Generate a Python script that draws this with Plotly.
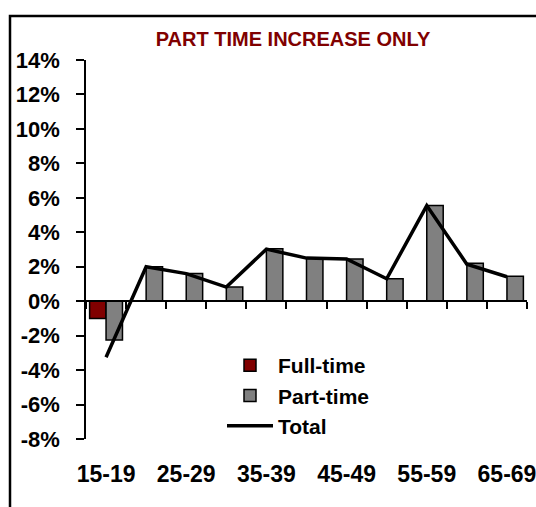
import plotly.graph_objects as go

categories = ["15-19", "20-24", "25-29", "30-34", "35-39", "40-44",
              "45-49", "50-54", "55-59", "60-64", "65-69"]
full_time = [-1.0, 0, 0, 0, 0, 0, 0, 0, 0, 0, 0]
part_time = [-2.25, 2.0, 1.6, 0.82, 3.05, 2.5, 2.45, 1.3, 5.55, 2.2, 1.45]
total = [-3.25, 2.0, 1.6, 0.82, 3.02, 2.5, 2.45, 1.3, 5.55, 2.15, 1.42]
y_ticks = list(range(-8, 15, 2))
y_tick_text = [f"{v}%" for v in y_ticks]
x_label_cats = categories[::2]

Y_MIN, Y_MAX = -8, 14
W, H = 536, 507
ML, MR, MT, MB = 86, 9, 60, 68
FONT = "Arial, Liberation Sans, sans-serif"

fig = go.Figure()
fig.add_trace(go.Bar(
    x=categories, y=full_time, name="Full-time",
    marker=dict(color="#800000", line=dict(color="black", width=1.5)),
    xaxis="x", yaxis="y"))
fig.add_trace(go.Bar(
    x=categories, y=part_time, name="Part-time",
    marker=dict(color="#808080", line=dict(color="black", width=1.5)),
    xaxis="x", yaxis="y"))
fig.add_trace(go.Scatter(
    x=categories, y=total, name="Total", mode="lines",
    line=dict(color="black", width=3.5),
    xaxis="x2", yaxis="y"))

pw = W - ML - MR
ph = H - MT - MB
# outer chart border (extends past the picture on the right and bottom)
fig.add_shape(type="rect", xref="paper", yref="paper",
              x0=(10 - ML) / pw, x1=(W + 30 - ML) / pw,
              y0=-(MB + 30) / ph, y1=(H - MB - 16) / ph,
              line=dict(color="black", width=2.5), fillcolor="rgba(0,0,0,0)")

fig.update_layout(
    width=W, height=H,
    margin=dict(l=ML, r=MR, t=MT, b=MB, autoexpand=False),
    paper_bgcolor="white", plot_bgcolor="white",
    barmode="group", bargap=0.18, bargroupgap=0,
    font=dict(family=FONT, color="black", size=22, weight="bold"),
    title=dict(text="PART TIME INCREASE ONLY", x=293 / W, xanchor="center",
               y=1 - 39 / H, yanchor="middle", xref="container", yref="container",
               automargin=False,
               font=dict(family=FONT, size=20, color="#800000", weight="bold")),
    xaxis=dict(type="category", categoryorder="array", categoryarray=categories,
               range=[-0.5, len(categories) - 0.5], automargin=False,
               tickmode="array", tickvals=x_label_cats, ticktext=x_label_cats,
               ticks="", showline=False, showgrid=False, zeroline=False,
               ticklabelstandoff=19,
               tickfont=dict(family=FONT, size=23, color="black", weight="bold")),
    xaxis2=dict(type="category", categoryorder="array", categoryarray=categories,
                range=[-0.5, len(categories) - 0.5], overlaying="x", automargin=False,
                anchor="free", position=(0 - Y_MIN) / (Y_MAX - Y_MIN), side="bottom",
                showticklabels=False, ticks="outside", ticklen=7, tickwidth=1.5,
                tickcolor="black", tickson="boundaries",
                showline=True, linecolor="black", linewidth=1.5,
                showgrid=False, zeroline=False),
    yaxis=dict(range=[Y_MIN, Y_MAX], tickmode="array", tickvals=y_ticks,
               ticktext=y_tick_text, ticks="outside", ticklen=8, tickwidth=1.5,
               tickcolor="black", showline=True, linecolor="black", linewidth=1.5,
               showgrid=False, zeroline=False, ticklabelstandoff=12, automargin=False,
               tickfont=dict(family=FONT, size=22, color="black", weight="bold")),
    legend=dict(x=(222 - ML) / pw, y=(H - MB - 345) / ph, xanchor="left", yanchor="top",
                bgcolor="rgba(0,0,0,0)", borderwidth=0, itemwidth=46,
                tracegroupgap=0, traceorder="normal",
                font=dict(family=FONT, size=21, color="black", weight="bold")),
    showlegend=True,
)

fig.write_html("out.html",
               config={"displayModeBar": False},
               post_script="document.body.style.margin='0';"
                           "document.body.style.overflow='hidden';")
